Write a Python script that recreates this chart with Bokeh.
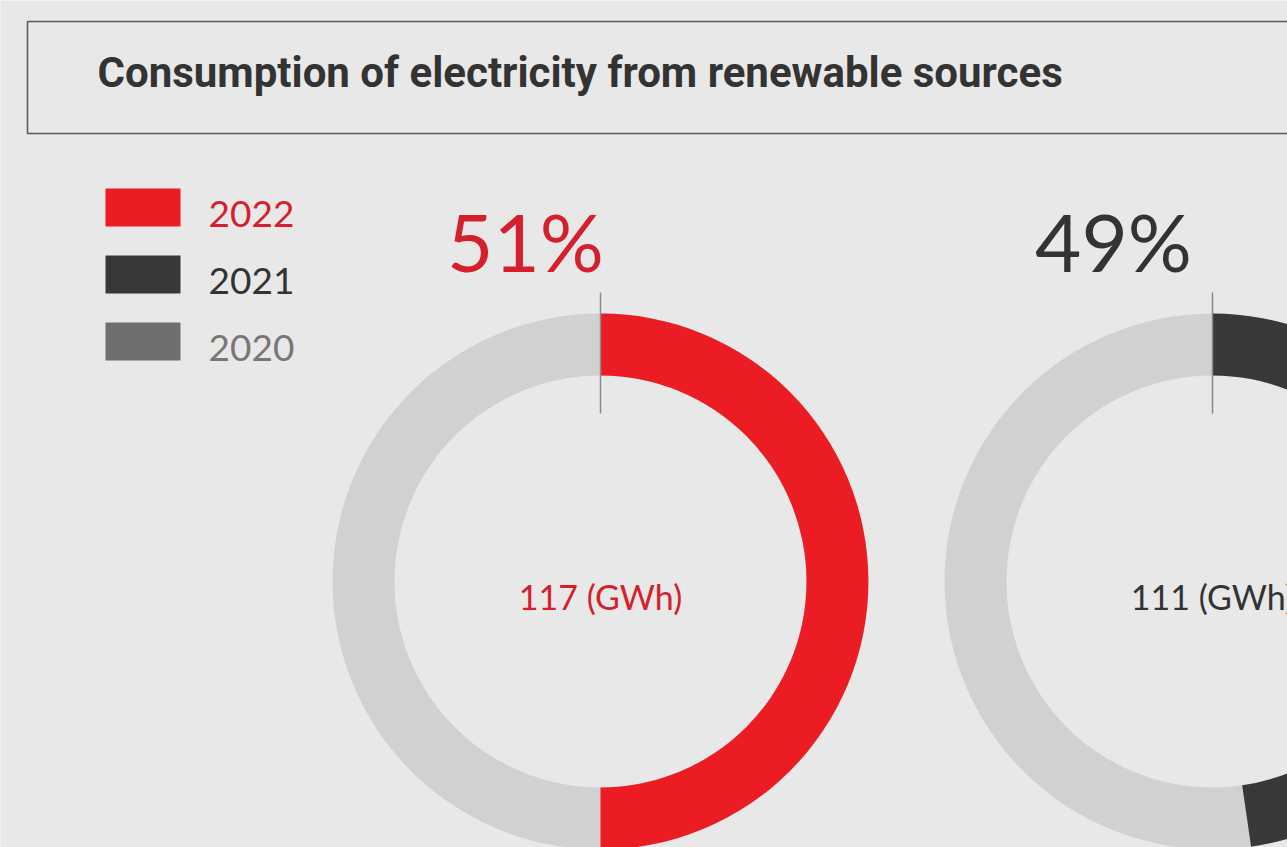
import math
from bokeh.plotting import figure
from bokeh.models import Range1d
from bokeh.core.properties import value
from bokeh.embed import file_html
from bokeh.resources import INLINE

# ---- data ----
title = "Consumption of electricity from renewable sources"
legend_years = ["2022", "2021", "2020"]
donut_years = ["2022", "2021"]
share_labels = [51, 49]          # % printed above each ring
arc_share = [50.0, 47.7]         # % of ring filled, as drawn
energy_gwh = [117, 111]          # GWh printed in ring centre

# ---- styles ----
W, H = 1287, 847
BG = "#e8e8e8"
RING = "#d1d1d1"
COL = {"2022": "#ec1c24", "2021": "#383838", "2020": "#6f6f6f"}
TXT = {"2022": "#d61f2c", "2021": "#333333", "2020": "#777777"}
FONT_LIGHT = "Lato"


def Y(py):
    return H - py


p = figure(width=W, height=H, output_backend="svg", toolbar_location=None,
           x_range=Range1d(0, W), y_range=Range1d(0, H),
           min_border=0, background_fill_color=BG, border_fill_color=BG,
           outline_line_color=None)
p.axis.visible = False
p.grid.visible = False

# title box
p.quad(left=[27], right=[W + 20], top=[Y(21)], bottom=[Y(133)],
       fill_color=None, line_color="#5a5a5a", line_width=1.6)
p.text(x=[97], y=[Y(72)], text=[title], text_font=value("Roboto"),
       text_font_style="bold", text_font_size="42px", text_color="#333333",
       text_baseline="middle", text_align="left")

# legend
for i, yr in enumerate(legend_years):
    top = 188 + i * 67
    p.quad(left=[105], right=[180], top=[Y(top)], bottom=[Y(top + 38)],
           fill_color=COL[yr], line_color=None)
    p.text(x=[208], y=[Y(top + 25)], text=[yr], text_font=value(FONT_LIGHT),
           text_font_size="37px", text_color=TXT[yr],
           text_baseline="middle", text_align="left")

# donuts
R_OUT, R_IN = 268, 206
centres_x = [600, 1212]
label_dx = [-75, -99]
cy = 581
for i, yr in enumerate(donut_years):
    cx = centres_x[i]
    p.annulus(x=[cx], y=[Y(cy)], inner_radius=R_IN, outer_radius=R_OUT,
              fill_color=RING, line_color=None)
    frac = arc_share[i] / 100.0
    p.annular_wedge(x=[cx], y=[Y(cy)], inner_radius=R_IN, outer_radius=R_OUT,
                    start_angle=math.pi / 2, end_angle=math.pi / 2 - frac * 2 * math.pi,
                    direction="clock", fill_color=COL[yr], line_color=None)
    # tick at top
    p.segment(x0=[cx], y0=[Y(292)], x1=[cx], y1=[Y(413)],
              line_color="#8a8a8a", line_width=1.5)
    # percentage
    p.text(x=[cx + label_dx[i]], y=[Y(240)], text=[f"{share_labels[i]}%"],
           text_font=value(FONT_LIGHT), text_font_size="80px", text_color=TXT[yr],
           text_baseline="middle", text_align="center")
    # centre value
    p.text(x=[cx], y=[Y(596)], text=[f"{energy_gwh[i]} (GWh)"],
           text_font=value(FONT_LIGHT), text_font_size="34px", text_color=TXT[yr],
           text_baseline="middle", text_align="center")

open("out.html", "w").write(file_html(p, INLINE))
